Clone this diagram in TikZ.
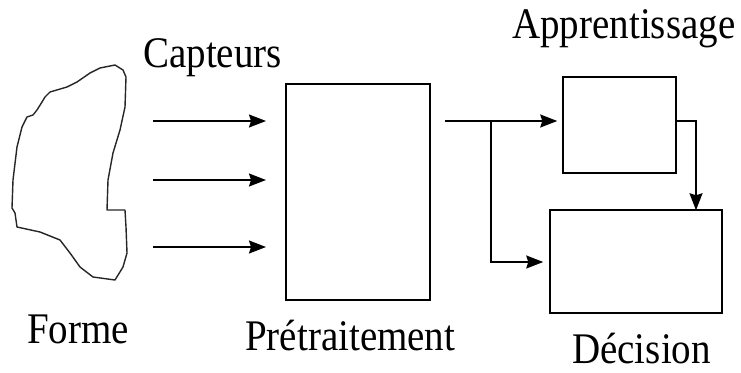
\documentclass[tikz,border=0pt]{standalone}
\usepackage{fontspec}
\setmainfont{Liberation Serif}
\usetikzlibrary{arrows.meta}
\begin{document}
\begin{tikzpicture}[x=1pt,y=-1pt,
  box/.style={draw, line width=1.5pt, rectangle, inner sep=0pt},
  arr/.style={line width=1.5pt, -{Stealth[length=17pt,width=13pt,inset=2pt]}},
  ln/.style={line width=1.5pt},
  lbl/.style={inner sep=0pt, anchor=base west, font=\fontsize{39}{44}\selectfont}]
\useasboundingbox (0,0) rectangle (741,372);
% shape
\draw[line width=1.4pt, line join=round, black!85]
 (100,68) -- (115,65) -- (123,70) -- (126,77) -- (125,107) -- (120,130) -- (113,153)
 -- (108,180) -- (107,210) -- (125,210) -- (126,227) -- (127,253) -- (123,267)
 -- (115,280) -- (93,277) -- (80,267) -- (70,253) -- (60,240) -- (40,232)
 -- (17,227) -- (15,213) -- (12,208) -- (13,180) -- (17,147) -- (22,127)
 -- (27,117) -- (33,115) -- (37,110) -- (42,102) -- (45,97) -- (50,92)
 -- (67,87) -- (77,82) -- (90,73) -- cycle;
% boxes
\node[box, minimum width=144pt, minimum height=216pt] (pre) at (358,192) {};
\node[box, minimum width=113pt, minimum height=96pt] (app) at (619.5,125) {};
\node[box, minimum width=172pt, minimum height=103pt] (dec) at (636,261.5) {};
% sensor arrows
\coordinate (s1) at (153,121); \coordinate (e1) at (266,121);
\coordinate (s2) at (153,180); \coordinate (e2) at (266,180);
\coordinate (s3) at (153,247); \coordinate (e3) at (266,247);
\draw[arr] (s1) -- (e1);
\draw[arr] (s2) -- (e2);
\draw[arr] (s3) -- (e3);
% connections
\coordinate (po) at (445,121);
\coordinate (br) at (491,121);
\draw[arr] (po) -- ([xshift=-5pt]app.west |- po);
\draw[arr] (br) |- ([xshift=-6pt]dec.west |- 0,262);
\draw[arr] (app.east |- 0,121) -| ([yshift=-1pt]696,0 |- dec.north);
% labels
\node[lbl] (cap) at (143,67) {\scalebox{1}[1.12]{Capteurs}};
\node[lbl] (appl) at (512,38) {\scalebox{1}[1.12]{Apprentissage}};
\node[lbl] (for) at (27,343) {\scalebox{1}[1.12]{Forme}};
\node[lbl] (prel) at (245,350) {\scalebox{1}[1.12]{Prétraitement}};
\node[lbl] (decl) at (572,363) {\scalebox{1}[1.12]{Décision}};
\end{tikzpicture}
\end{document}
